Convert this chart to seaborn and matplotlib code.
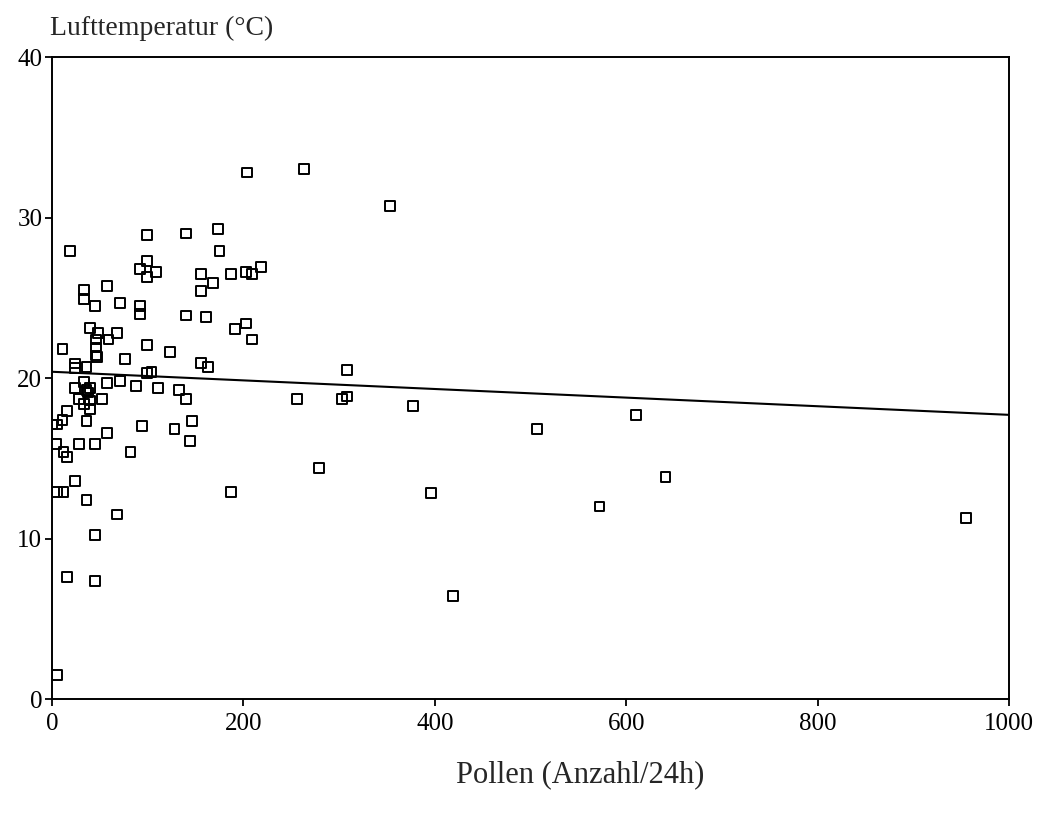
import numpy as np
import pandas as pd
import matplotlib
matplotlib.use("Agg")
import matplotlib.pyplot as plt
import seaborn as sns

# Pollen count (per 24h) and air temperature (deg C)
pollen = [0, 5, 4, 5, 12, 5, 11, 19, 16, 45,
          45, 68, 36, 24, 12, 16, 28, 45, 82, 57,
          94, 36, 11, 16, 40, 28, 33, 40, 52, 36,
          24, 33, 40, 57, 71, 88, 24, 24, 36, 99,
          104, 111, 133, 140, 146, 128, 144, 156, 163, 123,
          76, 99, 46, 46, 46, 59, 68, 48, 40, 92,
          92, 71, 45, 33, 33, 57, 99, 92, 109, 99,
          99, 140, 173, 175, 156, 168, 156, 140, 161, 187,
          203, 209, 218, 191, 203, 209, 204, 263, 353, 308,
          256, 303, 308, 377, 279, 187, 396, 419, 507, 610,
          572, 641, 955, 38, 47]
temperature = [17.1, 17.1, 15.9, 12.9, 12.9, 1.5, 21.8, 27.9, 7.6, 7.35,
               10.2, 11.5, 12.4, 13.6, 15.4, 15.1, 15.9, 15.9, 15.4, 16.55,
               17.0, 17.3, 17.4, 17.95, 18.05, 18.7, 18.4, 18.6, 18.7, 19.25,
               19.4, 19.75, 19.4, 19.7, 19.8, 19.5, 20.9, 20.6, 20.7, 20.3,
               20.4, 19.4, 19.25, 18.7, 17.3, 16.8, 16.1, 20.95, 20.7, 21.6,
               21.2, 22.05, 21.4, 21.9, 22.4, 22.4, 22.8, 22.8, 23.1, 24.0,
               24.5, 24.65, 24.5, 24.9, 25.5, 25.75, 26.3, 26.8, 26.6, 27.3,
               28.9, 29.0, 29.3, 27.9, 26.5, 25.9, 25.4, 23.9, 23.8, 26.5,
               26.6, 26.5, 26.9, 23.05, 23.4, 22.4, 32.8, 33.0, 30.7, 20.5,
               18.7, 18.7, 18.85, 18.25, 14.4, 12.9, 12.85, 6.4, 16.8, 17.7,
               12.0, 13.85, 11.3, 19.1, 21.3]

x_ticks = [0, 200, 400, 600, 800, 1000]
y_ticks = [0, 10, 20, 30, 40]

df = pd.DataFrame({"pollen": pollen, "temp": temperature})

sns.set_theme(style="ticks")
plt.rcParams["font.family"] = ["Liberation Serif", "DejaVu Serif"]

fig = plt.figure(figsize=(10.45, 8.25), dpi=100)
ax = fig.add_axes([0.0498, 0.1527, 0.9158, 0.7782])

ax.set_xlim(0, 1000)
ax.set_ylim(0, 40)

sns.scatterplot(data=df, x="pollen", y="temp", marker="s", s=50,
                fc="none", ec="black", linewidth=1.4, ax=ax, zorder=3)
# least-squares line across the full x range, like the original
sns.regplot(data=df, x="pollen", y="temp", scatter=False, ci=None,
            truncate=False, color="black", line_kws={"linewidth": 1.5}, ax=ax)

ax.set_xlim(0, 1000)
ax.set_ylim(0, 40)
ax.set_xticks(x_ticks)
ax.set_yticks(y_ticks)
ax.tick_params(axis="both", direction="out", length=5, width=1.3,
               labelsize=18, colors="black", pad=2)
ax.tick_params(axis="x", pad=5)
for sp in ax.spines.values():
    sp.set_visible(True)
    sp.set_color("black")
    sp.set_linewidth(1.4)

ax.set_xlabel("")
ax.set_ylabel("")
fig.text(0.048, 0.966, "Lufttemperatur (°C)", ha="left", va="center", fontsize=20)
fig.text(0.555, 0.0606, "Pollen (Anzahl/24h)", ha="center", va="center", fontsize=22)

fig.savefig("out.png", dpi=100, facecolor="white")
